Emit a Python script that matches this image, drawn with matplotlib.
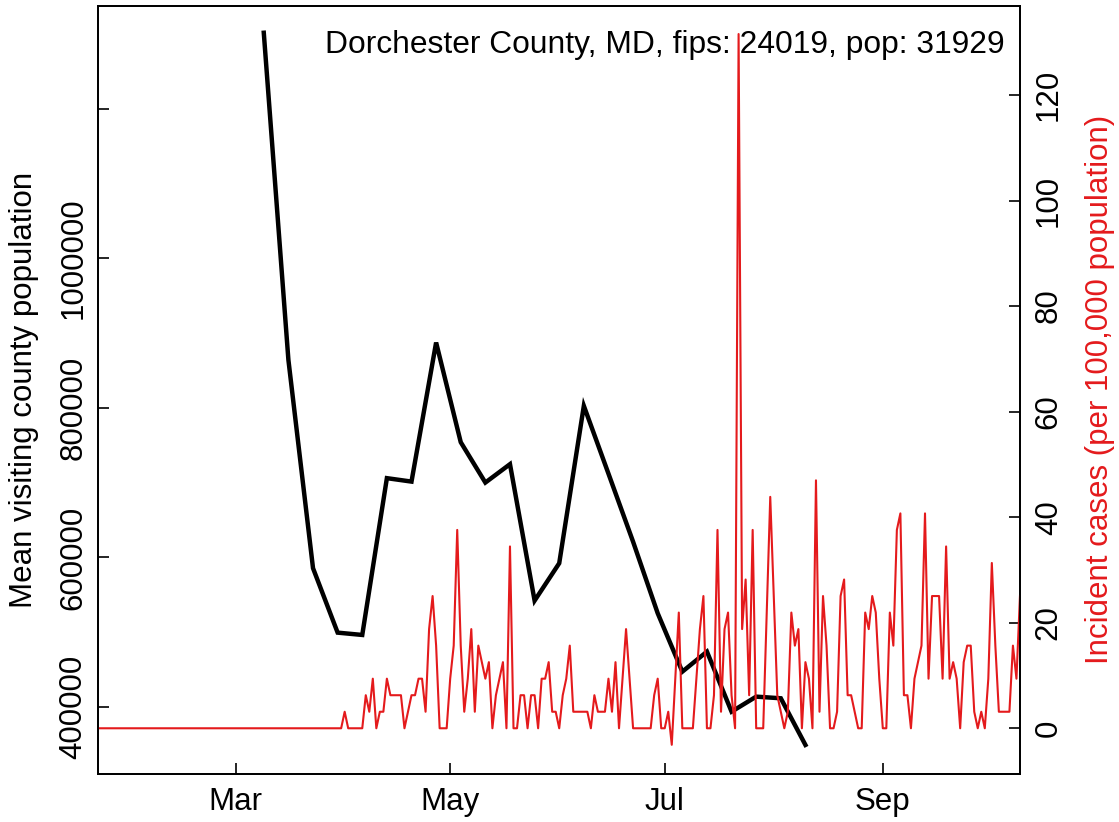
import numpy as np
import pandas as pd
import matplotlib
matplotlib.use("Agg")
import matplotlib.pyplot as plt
import matplotlib.dates as mdates

plt.rcParams['font.family'] = ['Liberation Sans', 'DejaVu Sans']

county = "Dorchester County, MD"
fips = 24019
pop = 31929

# weekly mean visiting county population (mondays, from 2020-03-09)
mob_start = "2020-03-09"
mob_values = [1301700, 864200, 585600, 499400, 496300, 706000, 701400, 887400,
              754100, 700100, 724700, 542200, 592200, 802700, 712000, 621000,
              525300, 447200, 474000, 393700, 413800, 411600, 349200]

# daily new cases from 2020-01-22 (nothing reported before 2020-03-31)
case_start = "2020-01-22"
new_cases = [0] * 69 + [
    0, 1, 0, 0, 0, 0, 0, 2, 1, 3, 0,
    1, 1, 3, 2, 2, 2, 2, 0, 1, 2,
    2, 3, 3, 1, 6, 8, 5, 0, 0, 0,
    3, 5, 12, 5, 1, 3, 6, 1, 5, 4,
    3, 4, 0, 2, 3, 4, 0, 11, 0, 0,
    2, 2, 0, 2, 2, 0, 3, 3, 4, 1,
    1, 0, 2, 3, 5, 1, 1, 1, 1, 1,
    0, 2, 1, 1, 1, 3, 1, 4, 0, 3,
    6, 3, 0, 0, 0, 0, 0, 0, 2, 3,
    0, 0, 1, -1, 3, 7, 0, 0, 0, 0,
    3, 6, 8, 0, 0, 2, 12, 1, 6, 7,
    2, 0, 42, 6, 9, 2, 12, 0, 0, 0,
    7, 14, 8, 2, 1, 0, 1, 7, 5, 6,
    0, 4, 3, 0, 15, 1, 8, 5, 0, 0,
    1, 8, 9, 2, 2, 1, 0, 0, 7, 6,
    8, 7, 3, 0, 0, 7, 5, 12, 13, 2,
    2, 0, 3, 4, 5, 13, 3, 8, 8, 8,
    3, 11, 3, 4, 3, 0, 4, 5, 5, 1,
    0, 1, 0, 3, 10, 5, 1, 1, 1, 1,
    5, 3, 8]

left_ticks = [400000, 600000, 800000, 1000000, 1200000]
left_labels = ["400000", "600000", "800000", "1000000", ""]
right_ticks = [0, 20, 40, 60, 80, 100, 120]

mob_dates = pd.date_range(mob_start, periods=len(mob_values), freq="7D")
case_dates = pd.date_range(case_start, periods=len(new_cases), freq="D")
incidence = np.array(new_cases) / pop * 1e5

fs = 22.5
red = '#E41A1C'

fig = plt.figure(figsize=(11.19, 8.22), dpi=100)
ax = fig.add_axes([0.088, 0.059, 0.8235, 0.934])
ax.plot(mob_dates, mob_values, color='black', lw=3.2, solid_joinstyle='miter')
ax.set_ylim(311000, 1337800)
ax.set_xlim(case_dates[0], case_dates[-1])
ax.set_yticks(left_ticks)
ax.set_yticklabels(left_labels, rotation=90, va='center', fontsize=fs)
ax.set_ylabel("Mean visiting county population", fontsize=fs, labelpad=14)

ax.xaxis.set_major_locator(mdates.MonthLocator(bymonth=[3, 5, 7, 9]))
ax.xaxis.set_major_formatter(mdates.DateFormatter('%b'))
ax.tick_params(direction='in', length=8, width=1.2, pad=7)
ax.tick_params(axis='x', labelsize=fs, pad=10)

ax2 = ax.twinx()
ax2.plot(case_dates, incidence, color=red, lw=1.5)
ax2.set_ylim(-8.57, 136.9)
ax2.set_yticks(right_ticks)
ax2.set_yticklabels([str(t) for t in right_ticks], rotation=90, va='center', fontsize=fs)
ax2.tick_params(direction='in', length=8, width=1.2, pad=10)
ax2.set_ylabel("Incident cases (per 100,000 population)", color=red, fontsize=fs, labelpad=15)

for a in (ax, ax2):
    for s in a.spines.values():
        s.set_linewidth(1.3)

ax2.text(0.9837, 0.949, f"{county}, fips: {fips}, pop: {pop}",
         transform=ax.transAxes, ha='right', va='center', fontsize=22.9)

fig.savefig("out.png", dpi=100)
